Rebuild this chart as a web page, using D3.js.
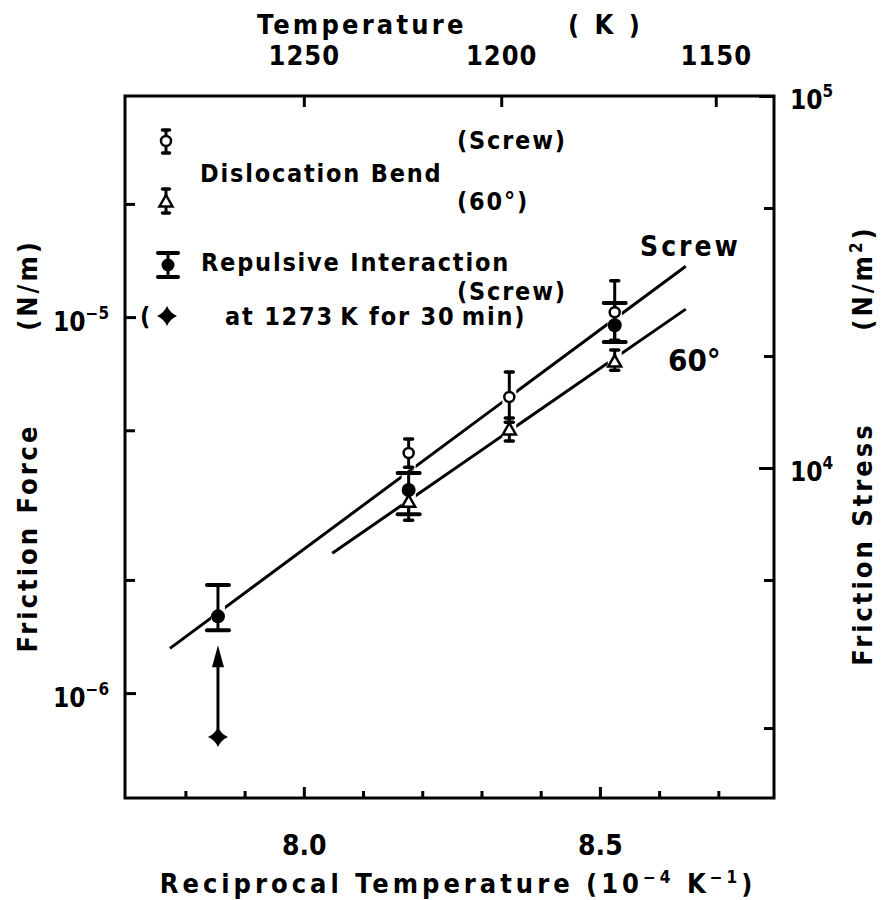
<!DOCTYPE html>
<html><head><meta charset="utf-8">
<script src="https://cdn.jsdelivr.net/npm/d3@7/dist/d3.min.js"></script>
<style>
body{margin:0;background:#fff}
text{font-family:"DejaVu Sans Condensed","DejaVu Sans",sans-serif;font-weight:bold;fill:#000}
</style>
</head><body><svg id="c" width="881" height="900"></svg>
<script>
// ---------- data ----------
const xMajorTicks = [8.0, 8.5];
const xMinorTicks = [7.8, 7.9, 8.1, 8.2, 8.3, 8.4, 8.6, 8.7];
const tempTicks = [1250, 1200, 1150];
const forceMajorTicks = [1e-5, 1e-6];
const forceMajorExp = ["-5", "-6"];
const forceMinorTicks = [2e-5, 5e-6, 2e-6];
const stressMajorTicks = [1e5, 1e4];
const stressMajorExp = ["5", "4"];
const stressMinorTicks = [5e4, 2e4, 5e3, 2e3];

// Dislocation bend, screw (open circle)
const bendScrewX = [8.177, 8.347, 8.525];
const bendScrewY = [4.35e-6, 6.13e-6, 1.03e-5];
const bendScrewHi = [4.74e-6, 7.14e-6, 1.25e-5];
const bendScrewLo = [3.99e-6, 5.25e-6, 8.68e-6];
// Dislocation bend, 60° (open triangle)
const bend60X = [8.177, 8.347, 8.525];
const bend60Y = [3.22e-6, 5.01e-6, 7.59e-6];
const bend60Hi = [3.51e-6, 5.39e-6, 8.17e-6];
const bend60Lo = [2.88e-6, 4.68e-6, 7.22e-6];
// Repulsive interaction, screw (filled circle, wide caps)
const repX = [7.855, 8.177, 8.525];
const repY = [1.60e-6, 3.47e-6, 9.51e-6];
const repHi = [1.94e-6, 3.85e-6, 1.09e-5];
const repLo = [1.47e-6, 2.99e-6, 8.58e-6];
// Repulsive interaction after anneal at 1273 K for 30 min (star) + arrow
const annealX = [7.855];
const annealY = [7.64e-7];
const annealArrowTo = [1.34e-6];
// Fitted lines
const screwLineX = [7.774, 8.645];
const screwLineY = [1.315e-6, 1.365e-5];
const line60X = [8.048, 8.645];
const line60Y = [2.355e-6, 1.05e-5];

// ---------- layout ----------
const L = 125, R = 774, T = 96, B = 798;
const svg = d3.select("#c");
const x = d3.scaleLinear().domain([7.698, 8.794]).range([L, R]);
const yL = d3.scaleLog().domain([Math.pow(10, -6.279), Math.pow(10, -4.412)]).range([B, T]);
const yR = d3.scaleLog().domain([Math.pow(10, 3.113), 1e5]).range([B, T]);

function styleAxis(g, sw) {
  g.select(".domain").remove();
  g.selectAll(".tick line").attr("stroke", "#000").attr("stroke-width", sw);
}

// bottom axis
const gB = svg.append("g").attr("transform", `translate(0,${B})`);
gB.call(d3.axisBottom(x).tickValues(xMajorTicks).tickSize(-11).tickFormat(d3.format(".1f")));
styleAxis(gB, 3);
gB.selectAll("text").attr("y", 47).attr("dy", "0.35em").attr("font-size", 28).attr("font-family", null);
const gBm = svg.append("g").attr("transform", `translate(0,${B})`);
gBm.call(d3.axisBottom(x).tickValues(xMinorTicks).tickSize(-7).tickFormat(""));
styleAxis(gBm, 3);

// top axis (temperature)
const gT = svg.append("g").attr("transform", `translate(0,${T})`);
gT.call(d3.axisTop(x).tickValues(tempTicks.map(t => 1e4 / t)).tickSize(-11)
  .tickFormat((d, i) => tempTicks[i]));
styleAxis(gT, 3);
gT.selectAll("text").attr("y", -40).attr("dy", "0.35em").attr("font-size", 27)
  .attr("letter-spacing", 1).attr("font-family", null);

// left axis
const gLft = svg.append("g").attr("transform", `translate(${L},0)`);
gLft.call(d3.axisLeft(yL).tickValues(forceMajorTicks).tickSize(-11).tickFormat(""));
styleAxis(gLft, 3);
const gLm = svg.append("g").attr("transform", `translate(${L},0)`);
gLm.call(d3.axisLeft(yL).tickValues(forceMinorTicks).tickSize(-10).tickFormat(""));
styleAxis(gLm, 3);
forceMajorTicks.forEach((v, i) => {
  const t = svg.append("text").attr("x", 53).attr("y", yL(v) + 5).attr("dy", "0.35em").attr("font-size", 26);
  t.append("tspan").text("10");
  t.append("tspan").attr("dy", -12).attr("font-size", 17).text(forceMajorExp[i].replace("-", "\u2212"));
});

// right axis
const gRt = svg.append("g").attr("transform", `translate(${R},0)`);
gRt.call(d3.axisRight(yR).tickValues(stressMajorTicks).tickSize(-15).tickFormat(""));
styleAxis(gRt, 3);
const gRm = svg.append("g").attr("transform", `translate(${R},0)`);
gRm.call(d3.axisRight(yR).tickValues(stressMinorTicks).tickSize(-10).tickFormat(""));
styleAxis(gRm, 3);
stressMajorTicks.forEach((v, i) => {
  const t = svg.append("text").attr("x", 790).attr("y", yR(v) + 4).attr("dy", "0.35em").attr("font-size", 26);
  t.append("tspan").text("10");
  t.append("tspan").attr("dy", -12).attr("font-size", 17).text(stressMajorExp[i]);
});

// frame
svg.append("rect").attr("x", L).attr("y", T).attr("width", R - L).attr("height", B - T)
  .attr("fill", "none").attr("stroke", "#000").attr("stroke-width", 3);

// titles
svg.append("text").attr("x", 257).attr("y", 34).attr("font-size", 27).attr("letter-spacing", 3.2).text("Temperature");
svg.append("text").attr("x", 568).attr("y", 34).attr("font-size", 27).attr("letter-spacing", 3.5).text("( K )");
const bt = svg.append("text").attr("x", 458).attr("y", 893).attr("text-anchor", "middle").attr("font-size", 27).attr("letter-spacing", 4);
bt.append("tspan").text("Reciprocal Temperature (10");
bt.append("tspan").attr("dy", -10).attr("font-size", 17).text("\u22124");
bt.append("tspan").attr("dy", 10).text(" K");
bt.append("tspan").attr("dy", -10).attr("font-size", 17).text("\u22121");
bt.append("tspan").attr("dy", 10).text(")");

svg.append("text").attr("transform", "translate(37,538) rotate(-90)").attr("text-anchor", "middle")
  .attr("font-size", 27).attr("letter-spacing", 3).text("Friction Force");
svg.append("text").attr("transform", "translate(37,285) rotate(-90)").attr("text-anchor", "middle")
  .attr("font-size", 27).attr("letter-spacing", 3).text("(N/m)");
svg.append("text").attr("transform", "translate(872,544) rotate(-90)").attr("text-anchor", "middle")
  .attr("font-size", 27).attr("letter-spacing", 3).text("Friction Stress");
const rt = svg.append("text").attr("transform", "translate(872,278) rotate(-90)").attr("text-anchor", "middle")
  .attr("font-size", 27).attr("letter-spacing", 3);
rt.append("tspan").text("(N/m");
rt.append("tspan").attr("dy", -10).attr("font-size", 17).text("2");
rt.append("tspan").attr("dy", 10).text(")");

// fitted lines
const lineGen = d3.line().x(d => x(d[0])).y(d => yL(d[1]));
svg.append("path").datum(d3.zip(screwLineX, screwLineY)).attr("d", lineGen)
  .attr("fill", "none").attr("stroke", "#000").attr("stroke-width", 3);
svg.append("path").datum(d3.zip(line60X, line60Y)).attr("d", lineGen)
  .attr("fill", "none").attr("stroke", "#000").attr("stroke-width", 3);
svg.append("text").attr("x", 640).attr("y", 256).attr("font-size", 28).attr("letter-spacing", 3).text("Screw");
svg.append("text").attr("x", 668).attr("y", 371).attr("font-size", 31).text("60\u00b0");

// symbols
const triPath = "M0,-7L6.5,4.5L-6.5,4.5Z";
const starPath = "M0,-10Q3,-3 10,0Q3,3 0,10Q-3,3 -10,0Q-3,-3 0,-10Z";

function drawErr(g, cx, yTop, yBot, capW, capSW) {
  g.append("line").attr("x1", cx).attr("x2", cx).attr("y1", yTop).attr("y2", yBot)
    .attr("stroke", "#000").attr("stroke-width", 3);
  [yTop, yBot].forEach(yy => g.append("line").attr("x1", cx - capW / 2).attr("x2", cx + capW / 2)
    .attr("y1", yy).attr("y2", yy).attr("stroke", "#000").attr("stroke-width", capSW).attr("stroke-linecap", "round"));
}

// white gaps where lines cross the error bars
const gaps = svg.append("g");
const allX = [].concat(bendScrewX, bend60X, repX);
const allHi = [].concat(bendScrewHi, bend60Hi, repHi);
const allLo = [].concat(bendScrewLo, bend60Lo, repLo);
allX.forEach((v, i) => gaps.append("line").attr("x1", x(v)).attr("x2", x(v))
  .attr("y1", yL(allHi[i]) - 2).attr("y2", yL(allLo[i]) + 2).attr("stroke", "#fff").attr("stroke-width", 14));

const pts = svg.append("g");
// error bars
bendScrewX.forEach((v, i) => drawErr(pts, x(v), yL(bendScrewHi[i]), yL(bendScrewLo[i]), 8, 3.5));
bend60X.forEach((v, i) => drawErr(pts, x(v), yL(bend60Hi[i]), yL(bend60Lo[i]), 8, 3.5));
repX.forEach((v, i) => drawErr(pts, x(v), yL(repHi[i]), yL(repLo[i]), 22, 4));
// markers
pts.selectAll(".fc").data(d3.zip(repX, repY)).join("circle")
  .attr("cx", d => x(d[0])).attr("cy", d => yL(d[1])).attr("r", 7).attr("fill", "#000");
pts.selectAll(".tri").data(d3.zip(bend60X, bend60Y)).join("path")
  .attr("transform", d => `translate(${x(d[0])},${yL(d[1])})`).attr("d", triPath)
  .attr("fill", "#fff").attr("stroke", "#000").attr("stroke-width", 2.5);
pts.selectAll(".oc").data(d3.zip(bendScrewX, bendScrewY)).join("circle")
  .attr("cx", d => x(d[0])).attr("cy", d => yL(d[1])).attr("r", 5)
  .attr("fill", "#fff").attr("stroke", "#000").attr("stroke-width", 2.5);
// anneal star + arrow
annealX.forEach((v, i) => {
  const cx = x(v), y0 = yL(annealY[i]), y1 = yL(annealArrowTo[i]);
  pts.append("line").attr("x1", cx).attr("x2", cx).attr("y1", y0).attr("y2", y1 + 16)
    .attr("stroke", "#000").attr("stroke-width", 3);
  pts.append("path").attr("d", `M${cx},${y1}L${cx + 6},${y1 + 22}L${cx - 6},${y1 + 22}Z`).attr("fill", "#000");
  pts.append("path").attr("transform", `translate(${cx},${y0})`).attr("d", starPath).attr("fill", "#000");
});

// legend
const lg = svg.append("g");
function legText(xx, yy, s) {
  return lg.append("text").attr("x", xx).attr("y", yy).attr("dy", "0.35em").attr("font-size", 25).attr("letter-spacing", 1.8).text(s);
}
drawErr(lg, 166, 130, 153, 7, 3.5);
lg.append("circle").attr("cx", 166).attr("cy", 141).attr("r", 5).attr("fill", "#fff").attr("stroke", "#000").attr("stroke-width", 2.5);
legText(457, 140, "(Screw)");
legText(200, 173, "Dislocation Bend");
drawErr(lg, 166, 189, 213, 7, 3.5);
lg.append("path").attr("transform", "translate(166,202)").attr("d", triPath).attr("fill", "#fff").attr("stroke", "#000").attr("stroke-width", 2.5);
legText(457, 201, "(60\u00b0)");
drawErr(lg, 168, 253, 277, 20, 4);
lg.append("circle").attr("cx", 168).attr("cy", 265).attr("r", 6.5).attr("fill", "#000");
legText(201, 262, "Repulsive Interaction");
legText(457, 291, "(Screw)");
legText(140, 316, "(");
lg.append("path").attr("transform", "translate(167,316)").attr("d", starPath).attr("fill", "#000");
legText(225, 316, "at 1273\u2009K for 30\u2009min)");
</script></body></html>
